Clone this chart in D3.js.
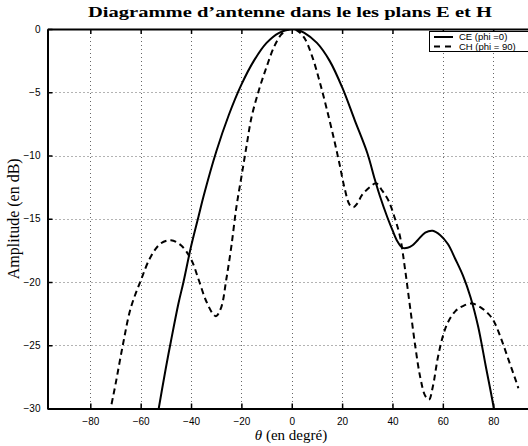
<!DOCTYPE html>
<html>
<head>
<meta charset="utf-8">
<script src="https://cdn.jsdelivr.net/npm/d3@7"></script>
<style>
  html, body { margin: 0; padding: 0; background: #fff; }
  svg { display: block; }
</style>
</head>
<body>
<svg id="chart" width="528" height="446"></svg>
<script>
// ---- Data ----
const ceAngles = [-55, -53, -50, -48, -45, -43, -40, -37, -35, -30, -25, -20, -15, -10, -5, 0, 1, 5, 10, 15, 20, 25, 30, 33, 35, 38, 40, 42, 44, 46, 48, 50, 53, 56, 59, 62, 65, 68, 71, 74, 77, 80, 81];
const ceValues = [-32.6, -30.2, -26.8, -24.7, -21.7, -20.0, -17.2, -14.8, -13.2, -9.7, -6.8, -4.4, -2.5, -1.1, -0.3, 0, 0, -0.3, -1.1, -2.5, -4.6, -7.2, -9.8, -11.9, -13.2, -14.9, -15.9, -16.8, -17.3, -17.3, -17.1, -16.7, -16.1, -15.95, -16.3, -17.0, -18.2, -19.5, -21.2, -23.5, -26.6, -29.7, -31];

const chAngles = [-73, -72, -70, -67, -64, -60, -56, -52, -48, -44, -40, -37, -34, -31, -30, -28, -26, -24, -22, -20, -18, -16, -13, -10, -7, -4, -1, 2, 5, 8, 11, 14, 17, 19, 21, 23, 24.5, 26, 28, 31, 33.5, 36, 38.5, 41, 43, 45, 47, 49, 51, 53, 54.5, 56, 58, 60, 62, 65, 68, 71.5, 75, 78, 80, 83, 86, 89, 90];
const chValues = [-31.2, -30.1, -28.1, -24.9, -22.1, -19.9, -18.0, -16.95, -16.7, -17.1, -18.2, -19.8, -21.5, -22.6, -22.7, -22.0, -19.8, -17.2, -14.1, -11.7, -9.3, -7.0, -4.8, -3.0, -1.4, -0.4, 0, -0.1, -0.7, -2.1, -4.1, -6.4, -8.9, -10.7, -12.6, -13.9, -14.1, -13.8, -13.1, -12.5, -12.2, -12.8, -13.6, -15.0, -16.4, -19.0, -22.0, -25.0, -27.5, -29.0, -29.3, -28.3, -26.0, -24.3, -23.2, -22.3, -21.9, -21.7, -22.0, -22.5, -23.0, -24.4, -26.1, -27.8, -28.4];

const xTicks = [-80, -60, -40, -20, 0, 20, 40, 60, 80];
const yTicks = [0, -5, -10, -15, -20, -25, -30];
const xDomain = [-97, 97];
const yDomain = [-30, 0];

const titleText = "Diagramme d\u2019antenne dans le les plans E et H";
const yLabelText = "Amplitude (en dB)";
const legendLabels = ["CE (phi =0)", "CH (phi = 90)"];

// ---- Layout ----
const svg = d3.select("#chart");
const L = 47.5, R = 536, T = 29, B = 408.5;

const x = d3.scaleLinear().domain(xDomain).range([L, R]);
const y = d3.scaleLinear().domain(yDomain).range([B, T]);

const defs = svg.append("defs");
defs.append("clipPath").attr("id", "clip")
  .append("rect").attr("x", L).attr("y", T).attr("width", R - L).attr("height", B - T);

// grid
const grid = svg.append("g").attr("stroke", "#666").attr("stroke-width", 1).attr("stroke-dasharray", "1,3");
grid.selectAll("line.v").data(xTicks).join("line")
  .attr("x1", d => Math.round(x(d)) + 0.5).attr("x2", d => Math.round(x(d)) + 0.5)
  .attr("y1", T).attr("y2", B);
grid.selectAll("line.h").data(yTicks).join("line")
  .attr("y1", d => Math.round(y(d)) + 0.5).attr("y2", d => Math.round(y(d)) + 0.5)
  .attr("x1", L).attr("x2", R);

// curves
const line = d3.line().x(d => x(d[0])).y(d => y(d[1])).curve(d3.curveCatmullRom.alpha(0.5));
const ce = ceAngles.map((a, i) => [a, ceValues[i]]);
const ch = chAngles.map((a, i) => [a, chValues[i]]);
const plot = svg.append("g").attr("clip-path", "url(#clip)");
plot.append("path").attr("d", line(ce)).attr("fill", "none").attr("stroke", "#000").attr("stroke-width", 2);
plot.append("path").attr("d", line(ch)).attr("fill", "none").attr("stroke", "#000").attr("stroke-width", 2)
  .attr("stroke-dasharray", "6,4");

// axes
const fontTick = "'Liberation Sans', Arial, Helvetica, sans-serif";
const xAxisB = d3.axisBottom(x).tickValues(xTicks).tickSizeInner(-5).tickSizeOuter(0).tickPadding(9)
  .tickFormat(d => d < 0 ? "\u2212" + Math.abs(d) : String(d));
const xAxisT = d3.axisTop(x).tickValues(xTicks).tickSizeInner(-5).tickSizeOuter(0).tickFormat("");
const yAxisL = d3.axisLeft(y).tickValues(yTicks).tickSizeInner(-5).tickSizeOuter(0).tickPadding(7)
  .tickFormat(d => d < 0 ? "\u2212" + Math.abs(d) : String(d));

function styleAxis(g) {
  g.select(".domain").attr("stroke", "#000").attr("stroke-width", 2);
  g.selectAll(".tick line").attr("stroke", "#000").attr("stroke-width", 1.5);
  g.selectAll("text").attr("font-family", fontTick).attr("font-size", 10).attr("fill", "#000");
}
svg.append("g").attr("transform", `translate(0,${B})`).call(xAxisB).call(styleAxis);
svg.append("g").attr("transform", `translate(0,${T})`).call(xAxisT).call(styleAxis);
svg.append("g").attr("transform", `translate(${L},0)`).call(yAxisL).call(styleAxis);

// title
svg.append("text").attr("x", 290).attr("y", 17).attr("text-anchor", "middle")
  .attr("font-family", "'Liberation Serif', 'Times New Roman', serif").attr("font-weight", "bold")
  .attr("font-size", 15.5).attr("textLength", 404).attr("lengthAdjust", "spacingAndGlyphs")
  .text(titleText);

// y label
svg.append("text").attr("transform", `translate(19,${(T + B) / 2}) rotate(-90)`).attr("text-anchor", "middle")
  .attr("font-family", "'Liberation Serif', 'Times New Roman', serif").attr("font-size", 16)
  .text(yLabelText);

// x label
const xl = svg.append("text").attr("x", 291).attr("y", 440).attr("text-anchor", "middle")
  .attr("font-family", "'Liberation Serif', 'Times New Roman', serif").attr("font-size", 15);
xl.append("tspan").attr("font-style", "italic").text("\u03B8");
xl.append("tspan").text(" (en degr\u00E9)");

// legend
const lg = svg.append("g");
lg.append("rect").attr("x", 429.5).attr("y", 31.5).attr("width", 110).attr("height", 20)
  .attr("fill", "#fff").attr("stroke", "#000").attr("stroke-width", 1);
legendLabels.forEach((t, i) => {
  const yy = 37 + i * 9.5;
  lg.append("line").attr("x1", 434).attr("x2", 453).attr("y1", yy).attr("y2", yy)
    .attr("stroke", "#000").attr("stroke-width", 2)
    .attr("stroke-dasharray", i === 1 ? "6,5" : null);
  lg.append("text").attr("x", 459).attr("y", yy + 3.3)
    .attr("font-family", fontTick).attr("font-size", 9.5).text(t);
});
</script>
</body>
</html>
